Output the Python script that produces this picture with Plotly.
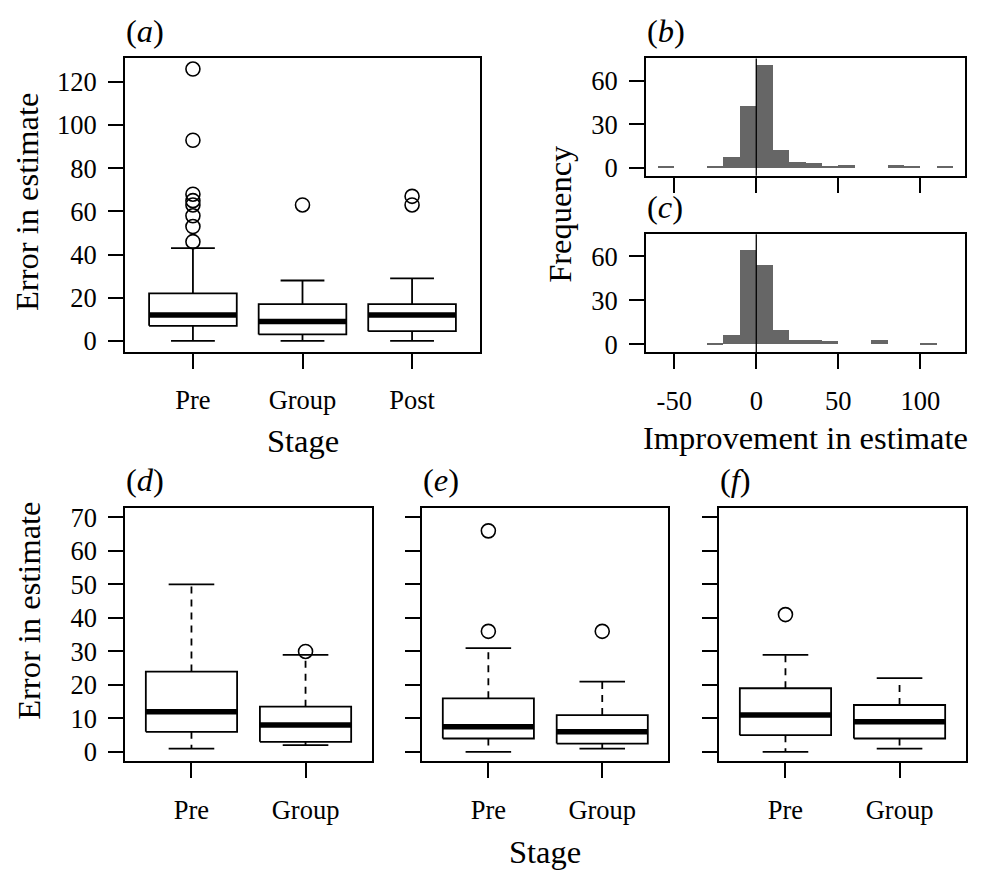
import plotly.graph_objects as go

W, H = 985, 874

# ---------------- data ----------------
stage_top = ["Pre", "Group", "Post"]
a_lower = [0, 0, 0]
a_q1 = [7, 3, 4.5]
a_median = [12, 9, 12]
a_q3 = [22, 17, 17]
a_upper = [43, 28, 29]
a_out_pre = [46, 53, 58, 63, 65, 68, 93, 126]
a_out_group = [63]
a_out_post = [63, 67]

bin_left = [-60, -50, -40, -30, -20, -10, 0, 10, 20, 30, 40, 50, 60, 70, 80, 90, 100, 110]
bin_width = 10
b_counts = [1, 0, 0, 1, 7, 42, 70, 12, 4, 3, 1, 2, 0, 0, 2, 1, 0, 1]
c_counts = [0, 0, 0, 1, 6, 64, 54, 10, 3, 3, 2, 0, 0, 3, 0, 0, 1, 0]

stage_bottom = ["Pre", "Group"]
d_lower = [1, 2]
d_q1 = [6, 3]
d_median = [12, 8]
d_q3 = [24, 13.5]
d_upper = [50, 29]
d_out_pre = []
d_out_group = [30]

e_lower = [0, 1]
e_q1 = [4, 2.5]
e_median = [7.5, 6]
e_q3 = [16, 11]
e_upper = [31, 21]
e_out_pre = [36, 66]
e_out_group = [36]

f_lower = [0, 1]
f_q1 = [5, 4]
f_median = [11, 9]
f_q3 = [19, 14]
f_upper = [29, 22]
f_out_pre = [41]
f_out_group = []

# ---------------- styling ----------------
FONT = "Liberation Serif, Times New Roman, serif"
TICK_SIZE = 26.5
TITLE_SIZE = 32.5
LW = 1.8
BOXW = 0.4
CAPW = 0.2


def px_dom_x(a, b):
    return [a / W, b / W]


def px_dom_y(top, bottom):
    return [1 - bottom / H, 1 - top / H]


fig = go.Figure()


def add_boxes(sfx, lower, q1, med, q3, upper, outs, dash):
    xa, ya = "x" + sfx, "y" + sfx
    wx, wy, cx, cy, bx, by, mx, my = [], [], [], [], [], [], [], []
    for i in range(len(med)):
        p = i + 1
        wx += [p, p, None, p, p, None]
        wy += [q3[i], upper[i], None, q1[i], lower[i], None]
        cx += [p - CAPW, p + CAPW, None, p - CAPW, p + CAPW, None]
        cy += [upper[i], upper[i], None, lower[i], lower[i], None]
        bx += [p - BOXW, p + BOXW, p + BOXW, p - BOXW, p - BOXW, None]
        by += [q1[i], q1[i], q3[i], q3[i], q1[i], None]
        mx += [p - BOXW, p + BOXW, None]
        my += [med[i], med[i], None]
    fig.add_trace(go.Scatter(x=wx, y=wy, mode="lines", xaxis=xa, yaxis=ya,
                             line=dict(color="black", width=LW, dash=dash), hoverinfo="skip"))
    fig.add_trace(go.Scatter(x=cx, y=cy, mode="lines", xaxis=xa, yaxis=ya,
                             line=dict(color="black", width=LW), hoverinfo="skip"))
    fig.add_trace(go.Scatter(x=bx, y=by, mode="lines", xaxis=xa, yaxis=ya, fill="toself",
                             fillcolor="white", line=dict(color="black", width=LW), hoverinfo="skip"))
    fig.add_trace(go.Scatter(x=mx, y=my, mode="lines", xaxis=xa, yaxis=ya,
                             line=dict(color="black", width=5.5), hoverinfo="skip"))
    ox, oy = [], []
    for i, vals in enumerate(outs):
        ox += [i + 1] * len(vals)
        oy += list(vals)
    if ox:
        fig.add_trace(go.Scatter(x=ox, y=oy, mode="markers", xaxis=xa, yaxis=ya,
                                 marker=dict(symbol="circle-open", size=14, color="black",
                                             line=dict(width=1.6))))


add_boxes("", a_lower, a_q1, a_median, a_q3, a_upper, [a_out_pre, a_out_group, a_out_post], "solid")
add_boxes("4", d_lower, d_q1, d_median, d_q3, d_upper, [d_out_pre, d_out_group], "7px,6px")
add_boxes("5", e_lower, e_q1, e_median, e_q3, e_upper, [e_out_pre, e_out_group], "7px,6px")
add_boxes("6", f_lower, f_q1, f_median, f_q3, f_upper, [f_out_pre, f_out_group], "7px,6px")

centers = [l + bin_width / 2 for l in bin_left]
for sfx, counts in (("2", b_counts), ("3", c_counts)):
    fig.add_trace(go.Bar(x=centers, y=counts, width=bin_width, xaxis="x" + sfx, yaxis="y" + sfx,
                         marker=dict(color="#666666", line=dict(width=0)), hoverinfo="skip"))
    fig.add_shape(type="line", xref="x" + sfx, yref="y" + sfx + " domain", x0=0, x1=0, y0=0, y1=1,
                  line=dict(color="black", width=1.3))

common = dict(showgrid=False, zeroline=False, showline=True, mirror=True, linecolor="black",
              linewidth=LW, ticks="outside", ticklen=15, tickwidth=1.6, tickcolor="black",
              tickfont=dict(family=FONT, size=TICK_SIZE, color="black"), fixedrange=True)

lay = dict(
    width=W, height=H, margin=dict(l=0, r=0, t=0, b=0),
    paper_bgcolor="white", plot_bgcolor="white", showlegend=False, bargap=0,
    font=dict(family=FONT, color="black"),
)

XSTAND = 9
YSTAND = 6
# panel a
lay["xaxis"] = dict(common, domain=px_dom_x(125, 480), range=[0.38, 3.62],
                    tickvals=[1, 2, 3], ticktext=stage_top, ticklabelstandoff=XSTAND, anchor="y")
lay["yaxis"] = dict(common, domain=px_dom_y(54, 352), range=[-5.04, 131.04],
                    tickvals=[0, 20, 40, 60, 80, 100, 120], ticklabelstandoff=YSTAND, anchor="x")
# panels b, c
lay["xaxis2"] = dict(common, domain=px_dom_x(646, 965), range=[-67.2, 127.2],
                     tickvals=[-50, 0, 50, 100], showticklabels=False, anchor="y2")
lay["yaxis2"] = dict(common, domain=px_dom_y(54.3, 173.3), range=[-5.2, 75.1],
                     tickvals=[0, 30, 60], ticklabelstandoff=YSTAND, anchor="x2")
lay["xaxis3"] = dict(common, domain=px_dom_x(646, 965), range=[-67.2, 127.2],
                     tickvals=[-50, 0, 50, 100], ticktext=["-50", "0", "50", "100"],
                     ticklabelstandoff=XSTAND, anchor="y3")
lay["yaxis3"] = dict(common, domain=px_dom_y(232.7, 352.3), range=[-5.2, 75.1],
                     tickvals=[0, 30, 60], ticklabelstandoff=YSTAND, anchor="x3")
# panels d, e, f
for sfx, (l, r) in (("4", (125.3, 371.7)), ("5", (422.3, 668.3)), ("6", (719.3, 965.7))):
    lay["xaxis" + sfx] = dict(common, domain=px_dom_x(l, r), range=[0.42, 2.58],
                              tickvals=[1, 2], ticktext=stage_bottom, ticklabelstandoff=XSTAND,
                              anchor="y" + sfx)
    lay["yaxis" + sfx] = dict(common, domain=px_dom_y(510.7, 767.7), range=[-2.8, 72.8],
                              tickvals=[0, 10, 20, 30, 40, 50, 60, 70], ticklabelstandoff=YSTAND,
                              showticklabels=(sfx == "4"), anchor="x" + sfx)

fig.update_layout(**lay)


def ann(text, x, y, size=TITLE_SIZE, angle=0, xanchor="center"):
    fig.add_annotation(text=text, x=x / W, y=1 - y / H, xref="paper", yref="paper",
                       showarrow=False, textangle=angle, xanchor=xanchor, yanchor="middle",
                       font=dict(family=FONT, size=size, color="black"))


ann("(<i>a</i>)", 124, 26, xanchor="left")
ann("(<i>b</i>)", 645, 26, xanchor="left")
ann("(<i>c</i>)", 645, 205, xanchor="left")
ann("(<i>d</i>)", 124, 482, xanchor="left")
ann("(<i>e</i>)", 421, 482, xanchor="left")
ann("(<i>f</i>)", 718, 482, xanchor="left")

ann("Error in estimate", 27, 200, angle=-90)
ann("Stage", 302.5, 443)
ann("Frequency", 560, 212, angle=-90)
ann("Improvement in estimate", 805.5, 440)
ann("Error in estimate", 29, 615, angle=-90)
ann("Stage", 545, 860)

fig.write_html("out.html")
